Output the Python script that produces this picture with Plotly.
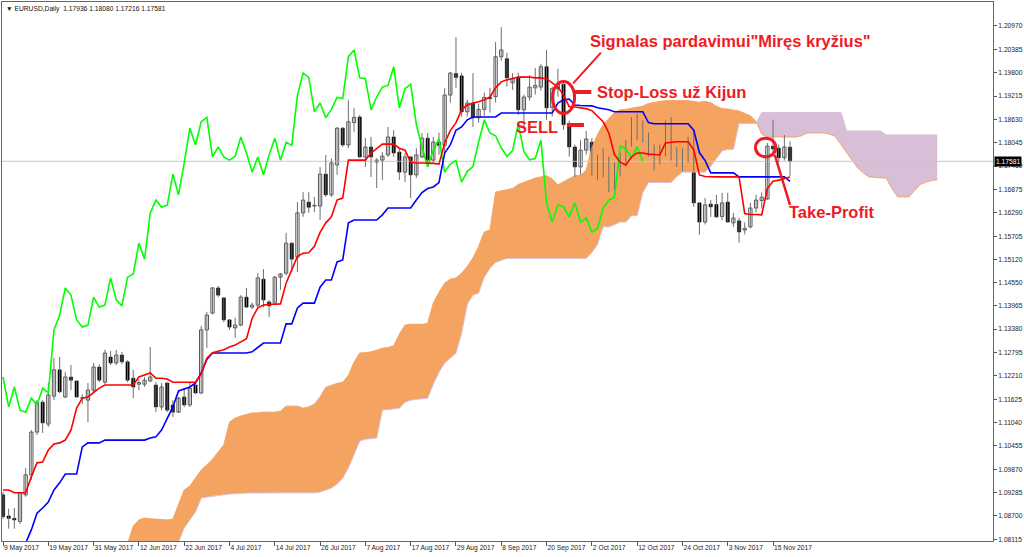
import plotly.graph_objects as go

# ---------------- data ----------------
x_tick_bars = [0, 8, 16, 24, 32, 40, 48, 56, 64, 72, 80, 88, 96, 104, 112, 120, 128, 136]
x_tick_labels = ["9 May 2017", "19 May 2017", "31 May 2017", "12 Jun 2017", "22 Jun 2017",
                 "4 Jul 2017", "14 Jul 2017", "26 Jul 2017", "7 Aug 2017", "17 Aug 2017",
                 "29 Aug 2017", "8 Sep 2017", "20 Sep 2017", "2 Oct 2017", "12 Oct 2017",
                 "24 Oct 2017", "3 Nov 2017", "15 Nov 2017"]
y_tick_labels = ["1.20970", "1.20385", "1.19800", "1.19215", "1.18630", "1.18045", "1.17460",
                 "1.16875", "1.16290", "1.15705", "1.15120", "1.14550", "1.13965", "1.13380",
                 "1.12795", "1.12210", "1.11625", "1.11040", "1.10455", "1.09870", "1.09285",
                 "1.08700", "1.08115"]

opens = [1.0923, 1.0870, 1.0864, 1.0856, 1.0923, 1.0973, 1.1080, 1.1155, 1.1100, 1.1170,
         1.1236, 1.1168, 1.1218, 1.1208, 1.1166, 1.1160, 1.1185, 1.1243, 1.1205, 1.1268,
         1.1253, 1.1273, 1.1256, 1.1215, 1.1200, 1.1200, 1.1208, 1.1198, 1.1143, 1.1203,
         1.1148, 1.1130, 1.1168, 1.1148, 1.1198, 1.1178, 1.1336, 1.1378, 1.1441, 1.1416,
         1.1361, 1.1341, 1.1348, 1.1418, 1.1393, 1.1398, 1.1463, 1.1406, 1.1403, 1.1468,
         1.1478, 1.1553, 1.1518, 1.1629, 1.1656, 1.1646, 1.1646, 1.1726, 1.1674, 1.1749,
         1.1841, 1.1799, 1.1855, 1.1869, 1.1769, 1.1794, 1.1756, 1.1761, 1.1774, 1.1819,
         1.1781, 1.1731, 1.1769, 1.1724, 1.1769, 1.1816, 1.1761, 1.1806, 1.1798, 1.1924,
         1.1978, 1.1972, 1.1882, 1.1904, 1.1867, 1.1888, 1.1918, 1.1920, 1.2020, 1.2015,
         1.1955, 1.1969, 1.1887, 1.1919, 1.1942, 1.1944, 1.1995, 1.1893, 1.1940, 1.1951,
         1.1850, 1.1794, 1.1744, 1.1786, 1.1806, 1.1733, 1.1750, 1.1762, 1.1706, 1.1731,
         1.1749, 1.1805, 1.1862, 1.1829, 1.1822, 1.1792, 1.1770, 1.1780, 1.1852, 1.1782,
         1.1757, 1.1763, 1.1811, 1.1654, 1.1606, 1.1651, 1.1650, 1.1620, 1.1656, 1.1604,
         1.1609, 1.1586, 1.1594, 1.1641, 1.1660, 1.1664, 1.1796, 1.1791, 1.1767, 1.17936]
highs = [1.0930, 1.0888, 1.0890, 1.0931, 1.0990, 1.1085, 1.1160, 1.1160, 1.1203, 1.1266,
         1.1268, 1.1231, 1.1248, 1.1210, 1.1175, 1.1203, 1.1253, 1.1250, 1.1286, 1.1283,
         1.1286, 1.1281, 1.1260, 1.1236, 1.1212, 1.1218, 1.1293, 1.1205, 1.1203, 1.1205,
         1.1160, 1.1168, 1.1190, 1.1205, 1.1205, 1.1346, 1.1381, 1.1443, 1.1446, 1.1418,
         1.1363, 1.1366, 1.1423, 1.1441, 1.1405, 1.1478, 1.1488, 1.1410, 1.1471, 1.1478,
         1.1579, 1.1556, 1.1656, 1.1681, 1.1681, 1.1669, 1.1744, 1.1774, 1.1765, 1.1844,
         1.1844, 1.1912, 1.1892, 1.1874, 1.1816, 1.1819, 1.1766, 1.1781, 1.1844, 1.1836,
         1.1791, 1.1779, 1.1772, 1.1791, 1.1829, 1.1829, 1.1819, 1.1830, 1.1941, 1.1982,
         1.2069, 1.1980, 1.1912, 1.1979, 1.1902, 1.1930, 1.1942, 1.2057, 1.2094, 1.2030,
         1.1979, 1.1980, 1.1925, 1.1974, 1.1992, 1.2002, 1.2037, 1.1945, 1.1990, 1.1955,
         1.1860, 1.1800, 1.1811, 1.1834, 1.1816, 1.1774, 1.1790, 1.1770, 1.1756, 1.1780,
         1.1811, 1.1869, 1.1878, 1.1860, 1.1830, 1.1800, 1.1800, 1.1860, 1.1869, 1.1793,
         1.1790, 1.1819, 1.1838, 1.1656, 1.1666, 1.1661, 1.1674, 1.1679, 1.1679, 1.1629,
         1.1616, 1.1605, 1.1654, 1.1674, 1.1680, 1.1804, 1.1862, 1.1800, 1.1824, 1.18080]
lows = [1.0863, 1.0838, 1.0838, 1.0850, 1.0918, 1.0960, 1.1073, 1.1078, 1.1093, 1.1160,
        1.1178, 1.1165, 1.1185, 1.1165, 1.1150, 1.1105, 1.1180, 1.1205, 1.1200, 1.1248,
        1.1248, 1.1250, 1.1205, 1.1165, 1.1185, 1.1193, 1.1205, 1.1130, 1.1135, 1.1130,
        1.1118, 1.1128, 1.1143, 1.1143, 1.1175, 1.1175, 1.1291, 1.1375, 1.1418, 1.1355,
        1.1336, 1.1316, 1.1345, 1.1391, 1.1388, 1.1393, 1.1393, 1.1368, 1.1398, 1.1436,
        1.1473, 1.1481, 1.1481, 1.1619, 1.1629, 1.1631, 1.1611, 1.1669, 1.1669, 1.1724,
        1.1794, 1.1791, 1.1832, 1.1766, 1.1744, 1.1719, 1.1691, 1.1711, 1.1769, 1.1769,
        1.1711, 1.1706, 1.1666, 1.1716, 1.1766, 1.1744, 1.1754, 1.1774, 1.1772, 1.1905,
        1.1942, 1.1870, 1.1870, 1.1844, 1.1855, 1.1872, 1.1880, 1.1905, 1.2010, 1.1945,
        1.1937, 1.1874, 1.1840, 1.1910, 1.1925, 1.1935, 1.1862, 1.1870, 1.1920, 1.1837,
        1.1770, 1.1719, 1.1724, 1.1775, 1.1722, 1.1711, 1.1718, 1.1681, 1.1686, 1.1720,
        1.1745, 1.1795, 1.1811, 1.1805, 1.1770, 1.1736, 1.1750, 1.1770, 1.1760, 1.1744,
        1.1734, 1.1755, 1.1644, 1.1574, 1.1600, 1.1619, 1.1616, 1.1611, 1.1604, 1.1594,
        1.1554, 1.1575, 1.1590, 1.1630, 1.1640, 1.1661, 1.1770, 1.1755, 1.1760, 1.17216]
closes = [1.0868, 1.0864, 1.0860, 1.0928, 1.0973, 1.1080, 1.1155, 1.1103, 1.1173, 1.1236,
          1.1181, 1.1218, 1.1210, 1.1168, 1.1165, 1.1185, 1.1243, 1.1210, 1.1278, 1.1253,
          1.1273, 1.1256, 1.1210, 1.1193, 1.1204, 1.1210, 1.1218, 1.1143, 1.1193, 1.1135,
          1.1130, 1.1165, 1.1148, 1.1190, 1.1178, 1.1336, 1.1373, 1.1441, 1.1423, 1.1361,
          1.1343, 1.1348, 1.1418, 1.1393, 1.1398, 1.1466, 1.1411, 1.1396, 1.1468, 1.1476,
          1.1553, 1.1513, 1.1629, 1.1661, 1.1643, 1.1648, 1.1726, 1.1674, 1.1754, 1.1841,
          1.1799, 1.1857, 1.1868, 1.1769, 1.1794, 1.1769, 1.1761, 1.1771, 1.1819, 1.1779,
          1.1731, 1.1769, 1.1724, 1.1774, 1.1816, 1.1761, 1.1806, 1.1798, 1.1924, 1.1979,
          1.1968, 1.1882, 1.1904, 1.1867, 1.1888, 1.1918, 1.1915, 1.2020, 1.2037, 1.1967,
          1.1965, 1.1887, 1.1919, 1.1944, 1.1948, 1.1995, 1.1892, 1.1940, 1.1951, 1.1850,
          1.1794, 1.1744, 1.1786, 1.1814, 1.1731, 1.1751, 1.1760, 1.1706, 1.1733, 1.1745,
          1.1806, 1.1862, 1.1829, 1.1822, 1.1792, 1.1770, 1.1785, 1.1852, 1.1782, 1.1762,
          1.1765, 1.1811, 1.1654, 1.1606, 1.1649, 1.1644, 1.1619, 1.1654, 1.1606, 1.1616,
          1.1581, 1.1590, 1.1641, 1.1661, 1.1668, 1.1796, 1.1789, 1.1767, 1.1794, 1.17581]

tenkan = [1.0935, 1.0935, 1.0928, 1.0928, 1.0928, 1.0968, 1.1003, 1.1005, 1.1035, 1.1050,
          1.1053, 1.1060, 1.1085, 1.1140, 1.1165, 1.1168, 1.1180, 1.1190, 1.1198, 1.1198,
          1.1198, 1.1198, 1.1198, 1.1198, 1.1218, 1.1223, 1.1228, 1.1215, 1.1215, 1.1213,
          1.1205, 1.1205, 1.1205, 1.1205, 1.1205, 1.1226, 1.1265, 1.1279, 1.1283, 1.1286,
          1.1293, 1.1298, 1.1306, 1.1314, 1.1365, 1.1391, 1.1398, 1.1400, 1.1400, 1.1401,
          1.1453, 1.1486, 1.1520, 1.1528, 1.1529, 1.1545, 1.1580, 1.1604, 1.1619, 1.1661,
          1.1666, 1.1761, 1.1761, 1.1761, 1.1761, 1.1779, 1.1790, 1.1801, 1.1801, 1.1801,
          1.1791, 1.1786, 1.1756, 1.1754, 1.1754, 1.1754, 1.1753, 1.1751, 1.1804, 1.1835,
          1.1855, 1.1887, 1.1899, 1.1904, 1.1907, 1.1912, 1.1919, 1.1942, 1.1957, 1.1962,
          1.1966, 1.1969, 1.1969, 1.1969, 1.1967, 1.1967, 1.1965, 1.1954, 1.1944, 1.1924,
          1.1895, 1.1894, 1.1892, 1.1890, 1.1885, 1.1870, 1.1857, 1.1829, 1.1775, 1.1756,
          1.1749, 1.1769, 1.1779, 1.1779, 1.1776, 1.1775, 1.1774, 1.1804, 1.1806, 1.1807,
          1.1807, 1.1807, 1.1787, 1.1724, 1.1720, 1.1719, 1.1719, 1.1719, 1.1719, 1.1719,
          1.1719, 1.1627, 1.1625, 1.1625, 1.1624, 1.1690, 1.1708, 1.1711, 1.1715, 1.1719]
kijun = [1.0760, 1.0770, 1.0780, 1.0790, 1.0802, 1.0835, 1.0877, 1.0890, 1.0905, 1.0935,
         1.0953, 1.0975, 1.0975, 1.0975, 1.1043, 1.1053, 1.1053, 1.1053, 1.1060, 1.1060,
         1.1060, 1.1060, 1.1060, 1.1060, 1.1060, 1.1060, 1.1065, 1.1068, 1.1085, 1.1115,
         1.1143, 1.1183, 1.1188, 1.1193, 1.1203, 1.1228, 1.1262, 1.1278, 1.1278, 1.1278,
         1.1278, 1.1278, 1.1278, 1.1278, 1.1281, 1.1293, 1.1303, 1.1303, 1.1303, 1.1303,
         1.1351, 1.1351, 1.1391, 1.1403, 1.1403, 1.1403, 1.1443, 1.1461, 1.1461, 1.1506,
         1.1511, 1.1604, 1.1611, 1.1611, 1.1611, 1.1611, 1.1611, 1.1624, 1.1641, 1.1641,
         1.1641, 1.1641, 1.1641, 1.1661, 1.1680, 1.1690, 1.1694, 1.1705, 1.1779, 1.1799,
         1.1836, 1.1844, 1.1862, 1.1869, 1.1869, 1.1869, 1.1869, 1.1869, 1.1879, 1.1879,
         1.1879, 1.1879, 1.1879, 1.1879, 1.1879, 1.1879, 1.1879, 1.1879, 1.1904, 1.1912,
         1.1914, 1.1899, 1.1898, 1.1898, 1.1897, 1.1892, 1.1890, 1.1887, 1.1882, 1.1882,
         1.1882, 1.1882, 1.1882, 1.1882, 1.1855, 1.1852, 1.1852, 1.1852, 1.1852, 1.1852,
         1.1852, 1.1852, 1.1836, 1.1780, 1.1760, 1.1729, 1.1729, 1.1729, 1.1729, 1.1729,
         1.1719, 1.1719, 1.1719, 1.1719, 1.1719, 1.1719, 1.1719, 1.1719, 1.1719, 1.1708]

CLOUD_START = 20  # bar index of the first senkou value below
span_a = [1.0780, 1.0788, 1.0800, 1.0845, 1.0860, 1.0865, 1.0863, 1.0862, 1.0861, 1.0860,
          1.0862, 1.0900, 1.0935, 1.0945, 1.0965, 1.0985, 1.0998, 1.1012, 1.1030, 1.1048,
          1.1105, 1.1115, 1.1120, 1.1125, 1.1128, 1.1128, 1.1130, 1.1130, 1.1130, 1.1132,
          1.1145, 1.1145, 1.1145, 1.1140, 1.1143, 1.1150, 1.1168, 1.1192, 1.1198, 1.1202,
          1.1205, 1.1222, 1.1255, 1.1278, 1.1279, 1.1281, 1.1285, 1.1290, 1.1292, 1.1296,
          1.1325, 1.1348, 1.1350, 1.1350, 1.1350, 1.1352, 1.1403, 1.1430, 1.1453, 1.1463,
          1.1466, 1.1478, 1.1495, 1.1516, 1.1545, 1.1581, 1.1586, 1.1681, 1.1684, 1.1686,
          1.1690, 1.1700, 1.1706, 1.1712, 1.1716, 1.1719, 1.1722, 1.1714, 1.1699, 1.1707,
          1.1715, 1.1722, 1.1723, 1.1736, 1.1792, 1.1825, 1.1850, 1.1866, 1.1880, 1.1887,
          1.1888, 1.1891, 1.1893, 1.1896, 1.1903, 1.1906, 1.1908, 1.1910, 1.1910, 1.1910,
          1.1910, 1.1910, 1.1908, 1.1906, 1.1908, 1.1905, 1.1896, 1.1890, 1.1889, 1.1887,
          1.1884, 1.1878, 1.1872, 1.1858, 1.1826, 1.1819, 1.1819, 1.1819, 1.1819, 1.1819,
          1.1819, 1.1822, 1.1829, 1.1829, 1.1829, 1.1829, 1.1826, 1.1820, 1.1800, 1.1779,
          1.1760, 1.1741, 1.1728, 1.1719, 1.1718, 1.1717, 1.1716, 1.1690, 1.1669, 1.1669,
          1.1669, 1.1685, 1.1700, 1.1706, 1.1710, 1.1712]
span_b = [1.0770, 1.0772, 1.0775, 1.0778, 1.0780, 1.0782, 1.0785, 1.0788, 1.0790, 1.0795,
          1.0800, 1.0805, 1.0840, 1.0860, 1.0880, 1.0915, 1.0917, 1.0920, 1.0922, 1.0924,
          1.0925, 1.0926, 1.0927, 1.0928, 1.0928, 1.0928, 1.0928, 1.0928, 1.0928, 1.0928,
          1.0928, 1.0928, 1.0928, 1.0928, 1.0928, 1.0928, 1.0930, 1.0935, 1.0940, 1.0950,
          1.0965, 1.0990, 1.1025, 1.1058, 1.1062, 1.1063, 1.1065, 1.1135, 1.1137, 1.1138,
          1.1140, 1.1155, 1.1160, 1.1162, 1.1163, 1.1165, 1.1200, 1.1230, 1.1253, 1.1265,
          1.1278, 1.1328, 1.1400, 1.1423, 1.1428, 1.1468, 1.1490, 1.1505, 1.1511, 1.1515,
          1.1515, 1.1515, 1.1515, 1.1515, 1.1515, 1.1515, 1.1515, 1.1515, 1.1515, 1.1515,
          1.1515, 1.1515, 1.1515, 1.1515, 1.1530, 1.1550, 1.1594, 1.1594, 1.1599, 1.1606,
          1.1606, 1.1622, 1.1622, 1.1680, 1.1705, 1.1705, 1.1705, 1.1705, 1.1705, 1.1720,
          1.1731, 1.1731, 1.1731, 1.1731, 1.1731, 1.1746, 1.1765, 1.1784, 1.1788, 1.1788,
          1.1853, 1.1853, 1.1853, 1.1853, 1.1880, 1.1880, 1.1880, 1.1880, 1.1880, 1.1880,
          1.1880, 1.1880, 1.1880, 1.1880, 1.1880, 1.1880, 1.1880, 1.1880, 1.1880, 1.1834,
          1.1834, 1.1834, 1.1834, 1.1834, 1.1834, 1.1834, 1.1824, 1.1824, 1.1824, 1.1824,
          1.1824, 1.1824, 1.1824, 1.1824, 1.1824, 1.1824]
CHIKOU_SHIFT = 26

# ---------------- styles ----------------
RED = "#ED1C24"
SANDY = "#F4A460"
THISTLE = "#D8BFD8"
BLUE_IN_CLOUD = "#0B5B9F"
TXT = "Liberation Sans"

bars = list(range(len(closes)))
cloud_x = list(range(CLOUD_START, CLOUD_START + len(span_a)))

fig = go.Figure()

# ---- kumo (cloud) polygons, coloured by which senkou span is on top ----
segments = []
cur = {"x": [cloud_x[0]], "a": [span_a[0]], "b": [span_b[0]]}
for k in range(len(cloud_x) - 1):
    d0 = span_a[k] - span_b[k]
    d1 = span_a[k + 1] - span_b[k + 1]
    if d0 * d1 < 0:
        t = d0 / (d0 - d1)
        xc = cloud_x[k] + t
        yc = span_a[k] + t * (span_a[k + 1] - span_a[k])
        cur["x"].append(xc); cur["a"].append(yc); cur["b"].append(yc)
        segments.append(cur)
        cur = {"x": [xc], "a": [yc], "b": [yc]}
    cur["x"].append(cloud_x[k + 1]); cur["a"].append(span_a[k + 1]); cur["b"].append(span_b[k + 1])
segments.append(cur)

for seg in segments:
    diff = sum(a - b for a, b in zip(seg["a"], seg["b"]))
    up = [max(a, b) for a, b in zip(seg["a"], seg["b"])]
    lo = [min(a, b) for a, b in zip(seg["a"], seg["b"])]
    fig.add_trace(go.Scatter(x=seg["x"] + seg["x"][::-1], y=up + lo[::-1], fill="toself",
                             fillcolor=SANDY if diff >= 0 else THISTLE, mode="lines",
                             line=dict(width=0), hoverinfo="skip"))

fig.add_trace(go.Scatter(x=cloud_x, y=span_a, mode="lines", line=dict(color=SANDY, width=1), hoverinfo="skip"))
fig.add_trace(go.Scatter(x=cloud_x, y=span_b, mode="lines", line=dict(color=THISTLE, width=1), hoverinfo="skip"))

# ---- bid line ----
fig.add_trace(go.Scatter(x=[-1, 180], y=[closes[-1], closes[-1]], mode="lines",
                         line=dict(color="#C8C8C8", width=1), hoverinfo="skip"))

# ---- candles ----
wx, wy = [], []
for i in bars:
    wx += [i, i, None]
    wy += [lows[i], highs[i], None]
fig.add_trace(go.Scatter(x=wx, y=wy, mode="lines", line=dict(color="#6E6E6E", width=1), hoverinfo="skip"))

bull = [i for i in bars if closes[i] >= opens[i]]
bear = [i for i in bars if closes[i] < opens[i]]
BODY_W = 0.58
fig.add_trace(go.Bar(x=bull, base=[opens[i] for i in bull],
                     y=[max(closes[i] - opens[i], 0.00004) for i in bull], width=BODY_W,
                     marker=dict(color="white", line=dict(color="#555555", width=1)), hoverinfo="skip"))
fig.add_trace(go.Bar(x=bear, base=[closes[i] for i in bear],
                     y=[opens[i] - closes[i] for i in bear], width=BODY_W,
                     marker=dict(color="black", line=dict(color="black", width=0.5)), hoverinfo="skip"))

# parts of bodies lying inside the sandy cloud take the inverted colours
ov_bear_x, ov_bear_b, ov_bear_h = [], [], []
ov_bull_x, ov_bull_b, ov_bull_h = [], [], []
for i in bars:
    k = i - CLOUD_START
    if k < 0 or k >= len(span_a) or span_a[k] <= span_b[k]:
        continue
    lo_c, hi_c = span_b[k], span_a[k]
    b_lo, b_hi = min(opens[i], closes[i]), max(opens[i], closes[i])
    s, e = max(lo_c, b_lo), min(hi_c, b_hi)
    if e - s <= 0.00003:
        continue
    if closes[i] < opens[i]:
        ov_bear_x.append(i); ov_bear_b.append(s); ov_bear_h.append(e - s)
    else:
        ov_bull_x.append(i); ov_bull_b.append(s); ov_bull_h.append(e - s)
fig.add_trace(go.Bar(x=ov_bear_x, base=ov_bear_b, y=ov_bear_h, width=BODY_W,
                     marker=dict(color=BLUE_IN_CLOUD, line=dict(width=0)), hoverinfo="skip"))
fig.add_trace(go.Bar(x=ov_bull_x, base=ov_bull_b, y=ov_bull_h, width=0.3,
                     marker=dict(color=SANDY, line=dict(width=0)), hoverinfo="skip"))

# ---- ichimoku lines ----
fig.add_trace(go.Scatter(x=bars[:len(closes) - CHIKOU_SHIFT], y=closes[CHIKOU_SHIFT:], mode="lines",
                         line=dict(color="#00FF00", width=1.6), hoverinfo="skip"))
fig.add_trace(go.Scatter(x=bars, y=kijun, mode="lines", line=dict(color="#0000FF", width=1.6), hoverinfo="skip"))
fig.add_trace(go.Scatter(x=bars, y=tenkan, mode="lines", line=dict(color="#FF0000", width=1.6), hoverinfo="skip"))

# ---- hand-drawn annotations ----
shapes = [
    dict(type="circle", xref="x", yref="y", x0=97.05, x1=100.95, y0=1.18778, y1=1.19579,
         line=dict(color=RED, width=3)),
    dict(type="circle", xref="x", yref="y", x0=132.9, x1=136.5, y0=1.17694, y1=1.18159,
         line=dict(color=RED, width=3)),
    dict(type="line", xref="x", yref="y", x0=100.7, x1=105.6, y0=1.19534, y1=1.20301,
         line=dict(color=RED, width=2)),
    dict(type="line", xref="x", yref="y", x0=100.7, x1=103.9, y0=1.19316, y1=1.19316,
         line=dict(color=RED, width=4)),
    dict(type="line", xref="x", yref="y", x0=99.6, x1=102.6, y0=1.18490, y1=1.18490,
         line=dict(color=RED, width=4)),
    dict(type="line", xref="x", yref="y", x0=136.3, x1=139.0, y0=1.17739, y1=1.16488,
         line=dict(color=RED, width=2.5)),
]
big = dict(family=TXT, size=16.5, color=RED)
annotations = [
    dict(x=103.3, y=1.20582, xref="x", yref="y", text="<b>Signalas pardavimui\"Miręs kryžius\"</b>",
         showarrow=False, xanchor="left", yanchor="middle", font=big),
    dict(x=104.6, y=1.19316, xref="x", yref="y", text="<b>Stop-Loss už Kijun</b>",
         showarrow=False, xanchor="left", yanchor="middle", font=big),
    dict(x=98.3, y=1.18440, xref="x", yref="y", text="<b>SELL</b>",
         showarrow=False, xanchor="right", yanchor="middle", font=big),
    dict(x=138.5, y=1.16312, xref="x", yref="y", text="<b>Take-Profit</b>",
         showarrow=False, xanchor="left", yanchor="middle", font=big),
    dict(x=0, y=1, xref="paper", yref="paper", xshift=2, yshift=-1,
         text="▼ EURUSD,Daily  %.5f %.5f %.5f %.5f" % (opens[-1], highs[-1], lows[-1], closes[-1]),
         showarrow=False, xanchor="left", yanchor="top", font=dict(family=TXT, size=6.7, color="#111")),
    dict(x=1, y=closes[-1], xref="paper", yref="y", xshift=1, text="%.5f" % closes[-1],
         showarrow=False, xanchor="left", yanchor="middle", bgcolor="black", borderpad=1,
         font=dict(family=TXT, size=6.7, color="white")),
]

fig.update_layout(width=1024, height=557, margin=dict(l=2, r=31, t=2, b=16),
                  plot_bgcolor="white", paper_bgcolor="white", showlegend=False,
                  barmode="overlay", shapes=shapes, annotations=annotations)
fig.update_xaxes(range=[-0.18, 174.85], tickmode="array", tickvals=x_tick_bars, ticktext=x_tick_labels,
                 ticks="outside", ticklen=4, tickcolor="#555", showgrid=False, zeroline=False,
                 showline=True, linecolor="#666", linewidth=1, mirror=True, tickangle=0,
                 ticklabelposition="outside right", automargin=False,
                 tickfont=dict(family=TXT, size=6.7, color="#222"))
fig.update_yaxes(range=[1.08073, 1.21570], side="right", tickmode="array",
                 tickvals=[float(v) for v in y_tick_labels], ticktext=y_tick_labels,
                 ticks="outside", ticklen=3, tickcolor="#555", showgrid=False, zeroline=False,
                 showline=True, linecolor="#666", linewidth=1, mirror=True, automargin=False,
                 tickfont=dict(family=TXT, size=6.7, color="#222"))

fig.write_html("out.html", config={"displayModeBar": False},
               post_script="document.body.style.margin='0';document.body.style.padding='0';"
                           "document.body.style.overflow='hidden';")
